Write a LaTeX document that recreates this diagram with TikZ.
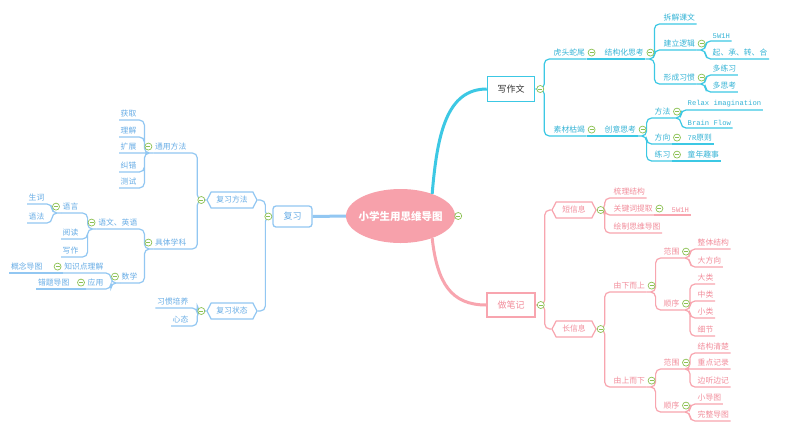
\documentclass[tikz,border=0pt]{standalone}
\usepackage{fontspec}
\setmainfont{Noto Sans CJK SC}
\newfontfamily\monofont{Liberation Mono}
\usetikzlibrary{shapes.geometric,shapes.symbols}
\definecolor{rootc}{HTML}{F7A1AB}
\definecolor{cyl}{HTML}{3CC8E4}
\definecolor{cyt}{HTML}{36B4D6}
\definecolor{pkl}{HTML}{F8A5AF}
\definecolor{pkt}{HTML}{F28D9B}
\definecolor{bll}{HTML}{92C7F2}
\definecolor{blt}{HTML}{68ADE6}
\definecolor{togc}{HTML}{8CC152}
\definecolor{darkt}{HTML}{333333}
\tikzset{
  every node/.style={font=\fontsize{7.8}{9}\selectfont},
  tp/.style={inner xsep=1.5pt, inner ysep=2.6pt, anchor=south west},
  tpl/.style={inner xsep=1.5pt, inner ysep=2.6pt, anchor=south east},
  cy/.style={text=cyt}, pk/.style={text=pkt}, bl/.style={text=blt},
  latin/.style={font=\monofont\fontsize{7.2}{9}\selectfont},
  ln/.style={line width=1.2pt, rounded corners=5pt},
  rb/.style={to path={-- ++(#1,0) |- (\tikztotarget)}}, rb/.default=9,
  lb/.style={to path={-- ++(-#1,0) |- (\tikztotarget)}}, lb/.default=9,
  tog/.style={circle, draw=togc, fill=white, line width=0.7pt,
    minimum size=7pt, inner sep=0pt,
    path picture={\draw[togc, line width=0.7pt]
      ([xshift=-2pt]path picture bounding box.center) --
      ([xshift=2pt]path picture bounding box.center);}},
  bx/.style={draw, line width=1.5pt, fill=white, minimum width=48pt,
    minimum height=24pt, font=\fontsize{9}{10}\selectfont},
  hx/.style={signal, signal to=east and west, signal pointer angle=125,
    draw, line width=1.2pt, fill=white, minimum width=44pt,
    minimum height=16pt, inner sep=1pt},
}
\begin{document}
\begin{tikzpicture}[x=1pt, y=-1pt]
  \fill[white] (0,0) rectangle (800,432);
  \useasboundingbox (0,0) rectangle (800,432);

  % centre
  \node[ellipse, fill=rootc, inner xsep=-15pt, inner ysep=0pt,
    minimum width=109pt, minimum height=54pt,
    text=white, font=\fontsize{10.5}{12}\selectfont\bfseries]
    (root) at (400.5,216) {小学生用思维导图};

  % 写作文
  \node[bx, draw=cyl, text=darkt, minimum width=47pt, minimum height=25pt] (xzw) at (511,89) {写作文};
  \node[tp, cy] (htsw) at (552,59) {虎头蛇尾};
  \node[tp, cy] (jgh) at (603,59) {结构化思考};
  \node[tp, cy] (cjkw) at (662,24) {拆解课文};
  \node[tp, cy] (jllj) at (662,50) {建立逻辑};
  \node[tp, cy] (xcxg) at (662,84) {形成习惯};
  \node[tp, cy, latin] (wyh) at (711,41) {5W1H};
  \node[tp, cy] (qczh) at (711,59) {起、承、转、合};
  \node[tp, cy] (dlx) at (711,75) {多练习};
  \node[tp, cy] (dsk) at (711,92) {多思考};
  \node[tp, cy] (scky) at (552,136) {素材枯竭};
  \node[tp, cy] (cysk) at (603,136) {创意思考};
  \node[tp, cy] (ff) at (653,118) {方法};
  \node[tp, cy] (fx) at (653,144) {方向};
  \node[tp, cy] (lx) at (653,161) {练习};
  \node[tp, cy, latin] (relax) at (686,110) {Relax imagination};
  \node[tp, cy, latin] (brain) at (686,128) {Brain Flow};
  \node[tp, cy] (qryz) at (686,144) {{\monofont\fontsize{7.2}{9}\selectfont 7R}原则};
  \node[tp, cy] (tnqs) at (686,161) {童年趣事};

  % 做笔记
  \node[bx, draw=pkl, text=pkt] (zbj) at (511,305) {做笔记};
  \node[hx, draw=pkl, text=pkt] (dxx) at (574,210) {短信息};
  \node[hx, draw=pkl, text=pkt] (cxx) at (574,329) {长信息};
  \node[tp, pk] (sljg) at (612,198) {梳理结构};
  \node[tp, pk] (gjc) at (612,215) {关键词提取};
  \node[tp, pk] (hzdt) at (612,233) {绘制思维导图};
  \node[tp, pk, latin] (wyhb) at (670,215) {5W1H};
  \node[tp, pk] (xeru) at (612,292) {由下而上};
  \node[tp, pk] (sexu) at (612,387) {由上而下};
  \node[tp, pk] (fwa) at (662,258) {范围};
  \node[tp, pk] (sxa) at (662,310) {顺序};
  \node[tp, pk] (ztjg) at (696,249) {整体结构};
  \node[tp, pk] (dfx) at (696,267) {大方向};
  \node[tp, pk] (dl) at (696,284) {大类};
  \node[tp, pk] (zl) at (696,301) {中类};
  \node[tp, pk] (xl) at (696,318) {小类};
  \node[tp, pk] (xj) at (696,336) {细节};
  \node[tp, pk] (fwb) at (662,369) {范围};
  \node[tp, pk] (sxb) at (662,412) {顺序};
  \node[tp, pk] (jgqc) at (696,353) {结构清楚};
  \node[tp, pk] (zdjl) at (696,369) {重点记录};
  \node[tp, pk] (btbj) at (696,387) {边听边记};
  \node[tp, pk] (xdt) at (696,404) {小导图};
  \node[tp, pk] (wzdt) at (696,421) {完整导图};

  % 复习
  \node[bx, draw=bll, text=blt, rounded corners=3pt, line width=1.3pt,
    minimum width=39pt, minimum height=21pt] (fux) at (292.5,216.5) {复习};
  \node[hx, draw=bll, text=blt, minimum width=50pt] (fxff) at (232,200) {复习方法};
  \node[hx, draw=bll, text=blt, minimum width=50pt] (fxzt) at (232,311) {复习状态};
  \node[tpl, bl] (tyff) at (188,153) {通用方法};
  \node[tpl, bl] (jtxk) at (188,249) {具体学科};
  \node[tpl, bl] (hq) at (138,120) {获取};
  \node[tpl, bl] (lj) at (138,137) {理解};
  \node[tpl, bl] (kz) at (138,153) {扩展};
  \node[tpl, bl] (jc) at (138,172) {纠错};
  \node[tpl, bl] (cs) at (138,188) {测试};
  \node[tpl, bl] (ywyy) at (139,229) {语文、英语};
  \node[tpl, bl] (shx) at (139,283) {数学};
  \node[tpl, bl] (yy) at (80,213) {语言};
  \node[tpl, bl] (yd) at (80,239) {阅读};
  \node[tpl, bl] (xz) at (80,257) {写作};
  \node[tpl, bl] (sc) at (46,204) {生词};
  \node[tpl, bl] (yf) at (46,223) {语法};
  \node[tpl, bl] (zsd) at (105,273) {知识点理解};
  \node[tpl, bl] (yyo) at (105,289) {应用};
  \node[tpl, bl] (gndt) at (44,273) {概念导图};
  \node[tpl, bl] (ctdt) at (71,289) {错题导图};
  \node[tpl, bl] (xgpy) at (190,308) {习惯培养};
  \node[tpl, bl] (xt) at (190,326) {心态};

  % main branches
  \draw[cyl, line width=3pt] (root.35) .. controls +(5,-60) and +(-40,0) .. (xzw.west);
  \draw[pkl, line width=3pt] (root.-35) .. controls +(5,45) and +(-35,0) .. (zbj.west);
  \draw[bll, line width=3pt] (root.west) -- (fux.east);

  % cyan links
  \draw[ln, cyl] (xzw.east) to[rb] (htsw.south east) (xzw.east) to[rb] (scky.south east);
  \draw[ln, cyl] (htsw.south east) -- (jgh.south east);
  \draw[ln, cyl] (jgh.south east) to[rb] (cjkw.south east) (jgh.south east) to[rb] (jllj.south east)
    (jgh.south east) to[rb] (xcxg.south east);
  \draw[ln, cyl] (jllj.south east) to[rb] (wyh.south east) (jllj.south east) to[rb] (qczh.south east);
  \draw[ln, cyl] (xcxg.south east) to[rb] (dlx.south east) (xcxg.south east) to[rb] (dsk.south east);
  \draw[ln, cyl] (scky.south east) -- (cysk.south east);
  \draw[ln, cyl] (cysk.south east) to[rb] (ff.south east) (cysk.south east) to[rb] (fx.south east)
    (cysk.south east) to[rb] (lx.south east);
  \draw[ln, cyl] (ff.south east) to[rb] (relax.south east) (ff.south east) to[rb] (brain.south east);
  \draw[ln, cyl] (fx.south east) -- (qryz.south east);
  \draw[ln, cyl] (lx.south east) -- (tnqs.south east);

  % pink links
  \draw[ln, pkl] (zbj.east) to[rb] (dxx.west) (zbj.east) to[rb] (cxx.west);
  \draw[ln, pkl] (dxx.east) to[rb=8] (sljg.south east) (dxx.east) to[rb=8] (gjc.south east)
    (dxx.east) to[rb=8] (hzdt.south east);
  \draw[ln, pkl] (gjc.south east) -- (wyhb.south east);
  \draw[ln, pkl] (cxx.east) to[rb=8] (xeru.south east) (cxx.east) to[rb=8] (sexu.south east);
  \draw[ln, pkl] (xeru.south east) to[rb] (fwa.south east) (xeru.south east) to[rb] (sxa.south east);
  \draw[ln, pkl] (fwa.south east) to[rb] (ztjg.south east) (fwa.south east) to[rb] (dfx.south east);
  \draw[ln, pkl] (sxa.south east) to[rb] (dl.south east) (sxa.south east) to[rb] (zl.south east)
    (sxa.south east) to[rb] (xl.south east) (sxa.south east) to[rb] (xj.south east);
  \draw[ln, pkl] (sexu.south east) to[rb] (fwb.south east) (sexu.south east) to[rb] (sxb.south east);
  \draw[ln, pkl] (fwb.south east) to[rb] (jgqc.south east) (fwb.south east) -- (zdjl.south east)
    (fwb.south east) to[rb] (btbj.south east);
  \draw[ln, pkl] (sxb.south east) to[rb] (xdt.south east) (sxb.south east) to[rb] (wzdt.south east);

  % blue links
  \draw[ln, bll] (fux.west) to[lb=7] (fxff.east) (fux.west) to[lb=7] (fxzt.east);
  \draw[ln, bll] (fxff.west) to[lb] (tyff.south west) (fxff.west) to[lb] (jtxk.south west);
  \draw[ln, bll] (tyff.south west) to[lb] (hq.south west) (tyff.south west) to[lb] (lj.south west)
    (tyff.south west) -- (kz.south west) (tyff.south west) to[lb] (jc.south west)
    (tyff.south west) to[lb] (cs.south west);
  \draw[ln, bll] (jtxk.south west) to[lb] (ywyy.south west) (jtxk.south west) to[lb] (shx.south west);
  \draw[ln, bll] (ywyy.south west) to[lb] (yy.south west) (ywyy.south west) to[lb] (yd.south west)
    (ywyy.south west) to[lb] (xz.south west);
  \draw[ln, bll] (yy.south west) to[lb] (sc.south west) (yy.south west) to[lb] (yf.south west);
  \draw[ln, bll] (shx.south west) to[lb] (zsd.south west) (shx.south west) to[lb] (yyo.south west);
  \draw[ln, bll] (zsd.south west) -- (gndt.south west);
  \draw[ln, bll] (yyo.south west) -- (ctdt.south west);
  \draw[ln, bll] (fxzt.west) to[lb] (xgpy.south west) (fxzt.west) to[lb] (xt.south west);

  % collapse toggles
  \node[tog] (root-t) at ([xshift=3pt]root.east) {};
  \node[tog] (xzw-t) at ([xshift=5pt]xzw.east) {};
  \node[tog] (zbj-t) at ([xshift=5pt]zbj.east) {};
  \node[tog] (dxx-t) at ([xshift=4pt]dxx.east) {};
  \node[tog] (cxx-t) at ([xshift=4pt]cxx.east) {};
  \node[tog] (fux-t) at ([xshift=-4pt]fux.west) {};
  \node[tog] (fxff-t) at ([xshift=-5pt]fxff.west) {};
  \node[tog] (fxzt-t) at ([xshift=-5pt]fxzt.west) {};
  \foreach \n in {htsw,jgh,jllj,xcxg,scky,cysk,ff,fx,lx,gjc,xeru,sexu,fwa,sxa,fwb,sxb}
    \node[tog] (\n-t) at ([xshift=5pt]\n.east) {};
  \foreach \n in {tyff,jtxk,ywyy,shx,yy,zsd,yyo}
    \node[tog] (\n-t) at ([xshift=-5pt]\n.west) {};
\end{tikzpicture}
\end{document}
